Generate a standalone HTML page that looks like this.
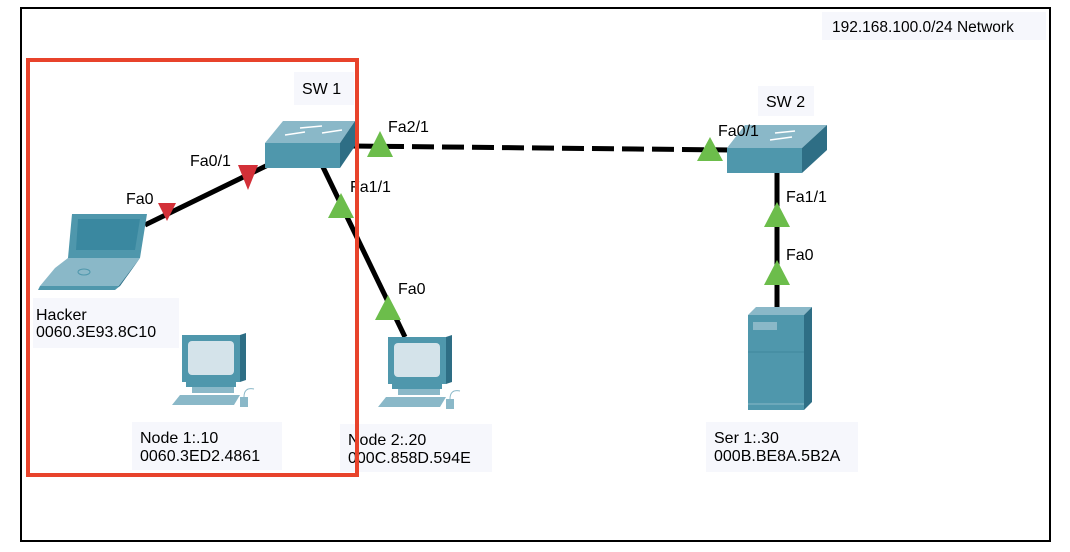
<!DOCTYPE html>
<html><head><style>
body{margin:0;background:#fff;}
svg{display:block;font-family:"Liberation Sans",sans-serif;}
</style></head><body>
<svg width="1070" height="552" viewBox="0 0 1070 552">
<rect x="21" y="8" width="1029" height="533" fill="#fff" stroke="#000" stroke-width="2"/>
<rect x="822" y="12" width="224" height="28" fill="#f6f7fc"/>
<text x="832" y="32" font-size="15.5">192.168.100.0/24 Network</text>

<line x1="145" y1="225" x2="268" y2="165" stroke="#000" stroke-width="5"/>
<line x1="322" y1="165" x2="405" y2="337" stroke="#000" stroke-width="5"/>
<line x1="352" y1="146" x2="730" y2="150" stroke="#000" stroke-width="5" stroke-dasharray="22,8"/>
<line x1="777" y1="170" x2="777" y2="308" stroke="#000" stroke-width="5"/>

<polygon points="265,143 283,121 355,121 340,143" fill="#8ab8c8"/>
<rect x="265" y="143" width="75" height="25" fill="#4f97ac"/>
<polygon points="340,143 355,121 355,146 340,168" fill="#2e6e85"/>
<path d="M285,135 l20,-3 M300,128 l22,-2 M322,133 l20,-3" stroke="#fff" stroke-width="1.5"/>
<polygon points="727,148 745,125 827,125 802,148" fill="#8ab8c8"/>
<rect x="727" y="148" width="75" height="25" fill="#4f97ac"/>
<polygon points="802,148 827,125 827,150 802,173" fill="#2e6e85"/>
<path d="M770,140 l22,-3 M775,133 l20,-2" stroke="#fff" stroke-width="1.5"/>

<polygon points="748,315 756,307 812,307 804,315" fill="#8ab8c8"/>
<rect x="748" y="315" width="56" height="95" fill="#4f97ac"/>
<polygon points="804,315 812,307 812,402 804,410" fill="#2e6e85"/>
<rect x="753" y="322" width="24" height="8" fill="#8ab8c8"/>
<line x1="748" y1="352" x2="804" y2="352" stroke="#3f879c"/>
<line x1="748" y1="404" x2="804" y2="404" stroke="#8ab8c8"/>

<polygon points="72,214 147,214 140,258 68,258" fill="#4f97ac"/>
<polygon points="78,219 140,219 135,250 76,250" fill="#3a88a0"/>
<polygon points="68,258 140,258 120,286 40,286 55,268" fill="#8ab8c8"/>
<polygon points="40,286 120,286 115,290 38,290" fill="#4f97ac"/>
<polygon points="140,258 137,262 118,287 120,286" fill="#2e6e85"/>
<ellipse cx="84" cy="272" rx="6" ry="3" fill="none" stroke="#4f97ac"/>

<g transform="translate(182,335)">
<rect x="0" y="0" width="58" height="47" fill="#4f97ac"/>
<polygon points="58,0 64,-2 64,45 58,47" fill="#2e6e85"/>
<rect x="6" y="6" width="46" height="34" rx="4" fill="#d4e3ea"/>
<rect x="4" y="47" width="50" height="5" fill="#4f97ac"/>
<rect x="10" y="52" width="42" height="6" fill="#8ab8c8"/>
<polygon points="-2,60 58,60 52,70 -10,70" fill="#8ab8c8"/>
<rect x="58" y="62" width="8" height="10" fill="#8ab8c8"/>
<path d="M62,62 q0,-10 10,-8" stroke="#8ab8c8" fill="none"/>
</g>
<g transform="translate(388,337)">
<rect x="0" y="0" width="58" height="47" fill="#4f97ac"/>
<polygon points="58,0 64,-2 64,45 58,47" fill="#2e6e85"/>
<rect x="6" y="6" width="46" height="34" rx="4" fill="#d4e3ea"/>
<rect x="4" y="47" width="50" height="5" fill="#4f97ac"/>
<rect x="10" y="52" width="42" height="6" fill="#8ab8c8"/>
<polygon points="-2,60 58,60 52,70 -10,70" fill="#8ab8c8"/>
<rect x="58" y="62" width="8" height="10" fill="#8ab8c8"/>
<path d="M62,62 q0,-10 10,-8" stroke="#8ab8c8" fill="none"/>
</g>

<g fill="#d33038">
<polygon points="158,203 176,203 167,221"/>
<polygon points="238,165 258,165 248,190"/>
</g>
<g fill="#6cbd4b">
<polygon points="380,131 393,157 367,157"/>
<polygon points="341,193 354,218 328,218"/>
<polygon points="388,295 401,320 375,320"/>
<polygon points="710,137 723,161 697,161"/>
<polygon points="777,202 790,227 764,227"/>
<polygon points="777,260 790,285 764,285"/>
</g>

<g font-size="16" fill="#000">
<rect x="294" y="72" width="60" height="33" fill="#f6f7fc"/>
<text x="302" y="94">SW 1</text>
<rect x="758" y="86" width="56" height="30" fill="#f6f7fc"/>
<text x="766" y="107">SW 2</text>
<text x="190" y="166">Fa0/1</text>
<text x="126" y="204">Fa0</text>
<text x="388" y="132">Fa2/1</text>
<text x="350" y="192">Fa1/1</text>
<text x="398" y="294">Fa0</text>
<text x="718" y="136">Fa0/1</text>
<text x="786" y="202">Fa1/1</text>
<text x="786" y="260">Fa0</text>
<rect x="33" y="298" width="146" height="50" fill="#f6f7fc"/>
<text x="36" y="320">Hacker</text>
<text x="36" y="337">0060.3E93.8C10</text>
<rect x="132" y="422" width="150" height="48" fill="#f6f7fc"/>
<text x="140" y="443">Node 1:.10</text>
<text x="140" y="461">0060.3ED2.4861</text>
<rect x="340" y="424" width="152" height="48" fill="#f6f7fc"/>
<text x="348" y="445">Node 2:.20</text>
<text x="348" y="463">000C.858D.594E</text>
<rect x="706" y="422" width="152" height="50" fill="#f6f7fc"/>
<text x="714" y="443">Ser 1:.30</text>
<text x="714" y="461">000B.BE8A.5B2A</text>
</g>

<rect x="28" y="60" width="329" height="415" fill="none" stroke="#e8432b" stroke-width="4"/>
</svg>
</body></html>
